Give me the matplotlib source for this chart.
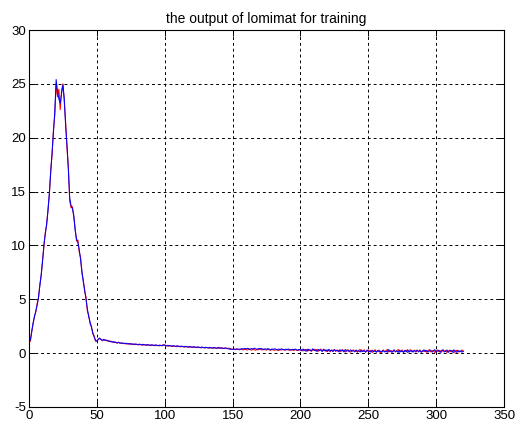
import numpy as np
import matplotlib.pyplot as plt

plt.rcParams['font.family'] = ['Liberation Sans', 'DejaVu Sans']
plt.rcParams['axes.unicode_minus'] = False

# sample index 1..320
steps = np.arange(1, 321)

# target series (blue)
target = [
    1.20, 1.95, 2.80, 3.35, 3.90, 4.45, 5.20, 6.25, 7.30, 8.50,
    10.10, 11.05, 12.00, 13.20, 14.90, 16.80, 18.60, 20.50, 22.40, 25.40,
    24.30, 23.60, 23.20, 24.10, 24.90, 23.60, 21.10, 19.30, 17.00, 14.40,
    13.70, 13.40, 12.80, 11.40, 10.60, 10.30, 9.60, 8.70, 7.60, 6.60,
    5.90, 5.00, 4.10, 3.40, 2.90, 2.40, 1.90, 1.50, 1.20, 1.10,
    1.30, 1.40, 1.25, 1.20, 1.28, 1.18, 1.22, 1.12, 1.15, 1.05,
    1.10, 1.00, 1.05, 0.98, 0.95, 1.02, 0.92, 0.96, 0.90, 0.93,
    0.88, 0.92, 0.85, 0.90, 0.83, 0.87, 0.80, 0.86, 0.82, 0.78,
    0.84, 0.79, 0.76, 0.82, 0.78, 0.74, 0.80, 0.76, 0.72, 0.78,
    0.74, 0.70, 0.77, 0.73, 0.69, 0.75, 0.71, 0.68, 0.74, 0.76,
    0.70, 0.66, 0.72, 0.68, 0.64, 0.70, 0.66, 0.62, 0.69, 0.65,
    0.60, 0.66, 0.62, 0.58, 0.64, 0.60, 0.56, 0.62, 0.58, 0.54,
    0.60, 0.56, 0.52, 0.58, 0.55, 0.50, 0.57, 0.53, 0.49, 0.55,
    0.52, 0.48, 0.54, 0.50, 0.46, 0.53, 0.49, 0.45, 0.51, 0.48,
    0.44, 0.50, 0.46, 0.43, 0.49, 0.45, 0.41, 0.36, 0.36, 0.37,
    0.36, 0.36, 0.38, 0.36, 0.37, 0.36, 0.42, 0.38, 0.44, 0.39,
    0.45, 0.40, 0.36, 0.43, 0.38, 0.46, 0.40, 0.35, 0.42, 0.37,
    0.44, 0.38, 0.33, 0.40, 0.35, 0.42, 0.36, 0.31, 0.39, 0.34,
    0.41, 0.35, 0.30, 0.38, 0.33, 0.40, 0.34, 0.29, 0.37, 0.32,
    0.39, 0.33, 0.28, 0.36, 0.31, 0.38, 0.32, 0.27, 0.35, 0.30,
    0.22, 0.38, 0.26, 0.34, 0.18, 0.36, 0.28, 0.20, 0.40, 0.25,
    0.32, 0.17, 0.35, 0.24, 0.30, 0.15, 0.37, 0.22, 0.29, 0.16,
    0.36, 0.21, 0.28, 0.14, 0.33, 0.20, 0.27, 0.13, 0.32, 0.19,
    0.26, 0.12, 0.34, 0.18, 0.25, 0.14, 0.31, 0.17, 0.24, 0.12,
    0.30, 0.16, 0.23, 0.11, 0.29, 0.15, 0.22, 0.10, 0.28, 0.14,
    0.21, 0.10, 0.27, 0.13, 0.20, 0.09, 0.26, 0.12, 0.19, 0.08,
    0.25, 0.11, 0.18, 0.08, 0.33, 0.14, 0.22, 0.09, 0.30, 0.12,
    0.20, 0.07, 0.28, 0.13, 0.19, 0.06, 0.27, 0.12, 0.31, 0.10,
    0.18, 0.26, 0.09, 0.24, 0.17, 0.29, 0.11, 0.23, 0.08, 0.21,
    0.30, 0.14, 0.25, 0.10, 0.20, 0.28, 0.09, 0.22, 0.32, 0.12,
    0.19, 0.27, 0.08, 0.24, 0.30, 0.11, 0.18, 0.29, 0.07, 0.22,
    0.26, 0.10, 0.31, 0.15, 0.08, 0.25, 0.12, 0.20, 0.09, 0.18,
]

# network output (red)
output = [
    1.10, 2.05, 2.70, 3.45, 3.80, 4.60, 5.10, 6.40, 7.20, 8.70,
    9.90, 11.20, 11.90, 13.40, 14.70, 17.00, 18.40, 20.70, 22.10, 25.00,
    23.80, 24.50, 22.60, 24.40, 25.00, 23.30, 21.40, 19.00, 17.30, 14.10,
    13.50, 13.60, 12.60, 11.60, 10.40, 10.50, 9.40, 8.90, 7.40, 6.80,
    5.70, 5.20, 3.90, 3.50, 2.70, 2.50, 1.80, 1.60, 1.10, 1.15,
    1.25, 1.35, 1.30, 1.15, 1.22, 1.25, 1.15, 1.18, 1.08, 1.12,
    1.02, 1.06, 0.98, 1.03, 0.92, 0.99, 0.95, 0.90, 0.94, 0.87,
    0.91, 0.84, 0.89, 0.82, 0.88, 0.80, 0.85, 0.78, 0.84, 0.80,
    0.76, 0.83, 0.78, 0.73, 0.80, 0.75, 0.71, 0.78, 0.74, 0.70,
    0.77, 0.72, 0.68, 0.75, 0.71, 0.67, 0.73, 0.70, 0.80, 0.72,
    0.68, 0.73, 0.64, 0.70, 0.66, 0.61, 0.68, 0.64, 0.59, 0.66,
    0.62, 0.58, 0.64, 0.60, 0.55, 0.62, 0.58, 0.53, 0.60, 0.56,
    0.52, 0.59, 0.55, 0.50, 0.57, 0.53, 0.48, 0.55, 0.51, 0.47,
    0.54, 0.50, 0.45, 0.52, 0.48, 0.44, 0.51, 0.47, 0.43, 0.55,
    0.49, 0.45, 0.41, 0.48, 0.44, 0.40, 0.47, 0.43, 0.39, 0.34,
    0.38, 0.33, 0.40, 0.35, 0.31, 0.38, 0.34, 0.30, 0.37, 0.33,
    0.29, 0.36, 0.32, 0.28, 0.35, 0.31, 0.27, 0.34, 0.30, 0.44,
    0.33, 0.29, 0.38, 0.32, 0.28, 0.35, 0.31, 0.27, 0.34, 0.30,
    0.26, 0.33, 0.29, 0.25, 0.32, 0.28, 0.36, 0.31, 0.27, 0.34,
    0.30, 0.26, 0.33, 0.29, 0.25, 0.32, 0.28, 0.24, 0.31, 0.27,
    0.35, 0.20, 0.31, 0.16, 0.37, 0.23, 0.33, 0.18, 0.28, 0.36,
    0.21, 0.34, 0.15, 0.30, 0.38, 0.19, 0.27, 0.33, 0.14, 0.31,
    0.24, 0.12, 0.30, 0.20, 0.35, 0.16, 0.29, 0.22, 0.11, 0.27,
    0.33, 0.18, 0.10, 0.26, 0.32, 0.17, 0.09, 0.25, 0.30, 0.16,
    0.21, 0.08, 0.27, 0.34, 0.13, 0.19, 0.31, 0.09, 0.24, 0.29,
    0.12, 0.27, 0.07, 0.20, 0.32, 0.10, 0.23, 0.28, 0.06, 0.18,
    0.30, 0.14, 0.22, 0.35, 0.11, 0.26, 0.07, 0.20, 0.29, 0.13,
    0.24, 0.34, 0.08, 0.21, 0.30, 0.12, 0.18, 0.27, 0.06, 0.23,
    0.32, 0.13, 0.20, 0.28, 0.09, 0.25, 0.16, 0.30, 0.11, 0.22,
    0.14, 0.27, 0.07, 0.24, 0.33, 0.12, 0.19, 0.26, 0.05, 0.21,
    0.29, 0.13, 0.23, 0.08, 0.31, 0.17, 0.25, 0.06, 0.20, 0.28,
    0.11, 0.24, 0.02, 0.19, 0.27, 0.09, 0.22, 0.14, 0.30, 0.16,
]

fig = plt.figure(figsize=(5.17, 4.30), dpi=100)
ax = fig.add_axes([0.0561, 0.0535, 0.9188, 0.8767])

ax.plot(steps, output, color='r', linewidth=0.75)
ax.plot(steps, target, color='b', linewidth=0.75)

ax.set_xlim(0, 350)
ax.set_ylim(-5, 30)
ax.set_xticks(np.arange(0, 351, 50))
ax.set_yticks(np.arange(-5, 31, 5))
ax.grid(True, color='black', linestyle=(0, (3, 3)), linewidth=0.7)
ax.tick_params(direction='in', top=True, right=True, labelsize=9.5,
               length=4, width=0.7, pad=2)
for s in ax.spines.values():
    s.set_linewidth(0.8)

ax.set_title('the output of lomimat for training', fontsize=10, pad=5)

fig.savefig('out.png', dpi=100)
